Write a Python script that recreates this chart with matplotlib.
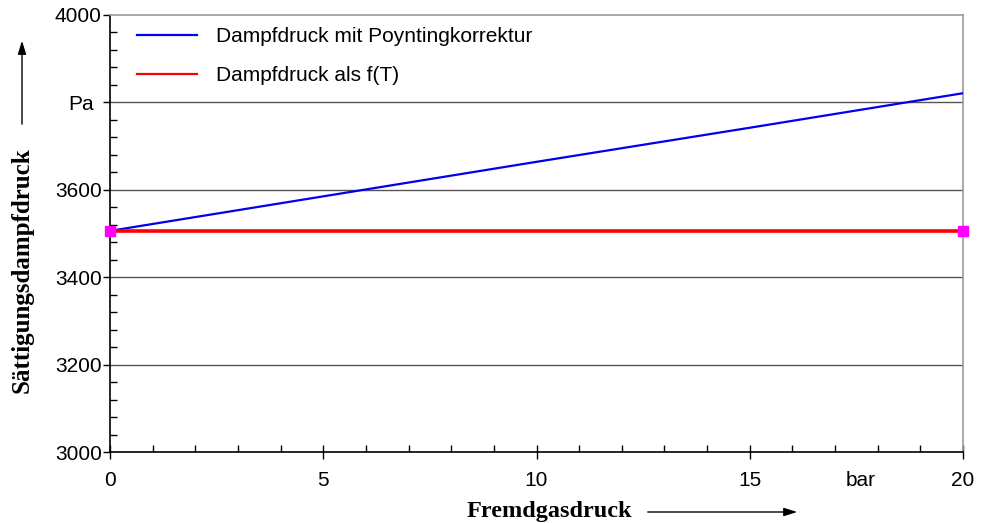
import numpy as np
import matplotlib.pyplot as plt
from matplotlib.ticker import MultipleLocator
from matplotlib.lines import Line2D
from matplotlib.transforms import ScaledTranslation

# data
druck_bar = [0, 5, 10, 15, 20]
p_poynting = [3506, 3585, 3664, 3742, 3821]
p_ft = [3506, 3506, 3506, 3506, 3506]

yticks = [3000, 3200, 3400, 3600, 3800, 4000]
ytick_labels = ["3000", "3200", "3400", "3600", "Pa", "4000"]
xticks = [0, 5, 10, 15, 17.6, 20]
xtick_labels = ["0", "5", "10", "15", "bar", "20"]

sans = "Liberation Sans"
serif = "Liberation Serif"

fig = plt.figure(figsize=(9.84, 5.23), dpi=100)
ax = fig.add_axes([110/984, 1-452/523, 853/984, 437/523])

for y in [3200, 3400, 3600, 3800]:
    ax.axhline(y, color="#555555", lw=1.0, zorder=1)

ax.plot(druck_bar, p_poynting, color="#0000ee", lw=1.6, zorder=3)
ax.plot(druck_bar, p_ft, color="#ff0000", lw=2.6, zorder=3)
ax.plot([druck_bar[0], druck_bar[-1]], [p_ft[0], p_ft[-1]], ls="none", marker="s",
        ms=7.5, color="#ff00ff", clip_on=False, zorder=4)

ax.set_xlim(0, 20)
ax.set_ylim(3000, 4000)

ax.set_yticks(yticks)
ax.set_yticklabels(ytick_labels, fontfamily=sans, fontsize=15)
ax.yaxis.set_minor_locator(MultipleLocator(40))
ax.set_xticks(xticks)
ax.set_xticklabels(xtick_labels, fontfamily=sans, fontsize=15)
ax.xaxis.set_minor_locator(MultipleLocator(1))

ax.tick_params(axis="y", which="major", direction="out", length=5, width=1, pad=1)
ax.tick_params(axis="y", which="minor", direction="in", length=5, width=1)
ax.tick_params(axis="x", which="major", direction="inout", length=10, width=1, pad=9)
ax.tick_params(axis="x", which="minor", direction="in", length=5, width=1)
# no tick mark at the "bar" position, "Pa" sits a bit further left
ax.xaxis.get_major_ticks()[4].tick1line.set_visible(False)
pa = ax.get_yticklabels()[4]
pa.set_transform(pa.get_transform() + ScaledTranslation(-0.08, 0, fig.dpi_scale_trans))

for s in ["left", "bottom"]:
    ax.spines[s].set_color("black")
    ax.spines[s].set_linewidth(1.2)
for s in ["top", "right"]:
    ax.spines[s].set_color("#999999")
    ax.spines[s].set_linewidth(1.2)

handles = [Line2D([], [], color="#0000ee", lw=1.6), Line2D([], [], color="#ff0000", lw=1.6)]
labels = ["Dampfdruck mit Poyntingkorrektur", "Dampfdruck als f(T)"]
ax.legend(handles, labels, loc="upper left", frameon=False, prop={"family": sans, "size": 15},
          handlelength=2.9, handletextpad=0.87, labelspacing=0.95, borderpad=0,
          bbox_to_anchor=(27/853, 1-12/437), borderaxespad=0)

# axis labels with arrows
fig.text(549/984, 1-511/523, "Fremdgasdruck", ha="center", va="center",
         fontfamily=serif, fontweight="bold", fontsize=17.5)
ax.annotate("", xy=(800/984, 1-512/523), xytext=(645/984, 1-512/523),
            xycoords="figure fraction", textcoords="figure fraction",
            arrowprops=dict(arrowstyle="-|>,head_length=0.8,head_width=0.25", color="black", lw=1))

fig.text(22/984, 1-270/523, "Sättigungsdampfdruck", ha="center", va="center", rotation=90,
         fontfamily=serif, fontweight="bold", fontsize=18)
ax.annotate("", xy=(22/984, 1-38/523), xytext=(22/984, 1-127/523),
            xycoords="figure fraction", textcoords="figure fraction",
            arrowprops=dict(arrowstyle="-|>,head_length=0.8,head_width=0.25", color="black", lw=1))

fig.savefig("out.png", dpi=100)
